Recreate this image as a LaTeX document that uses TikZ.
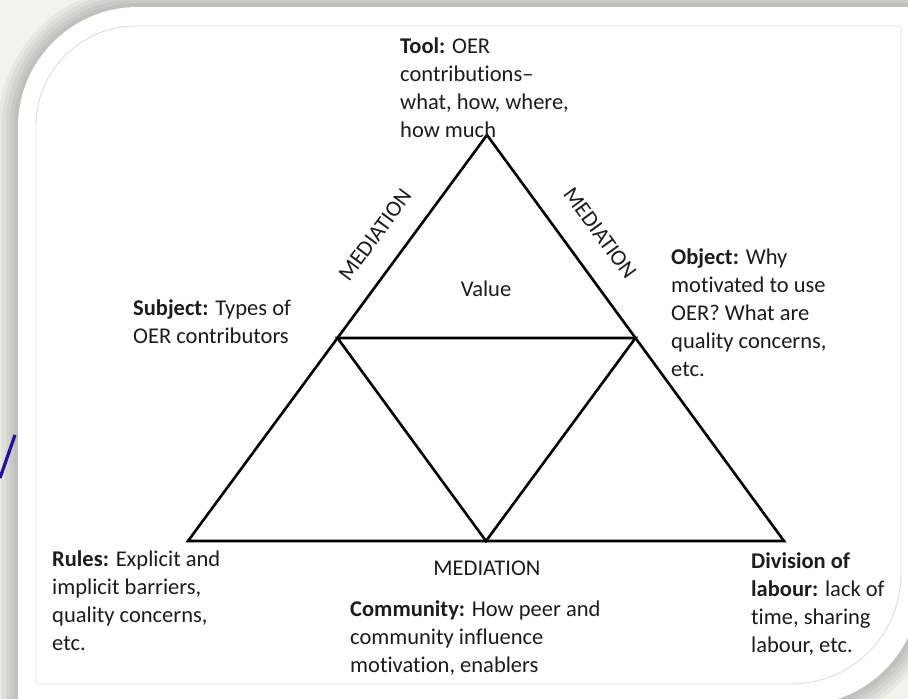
\documentclass[tikz,border=0pt]{standalone}
\usepackage{fontspec}
\setmainfont{Carlito}[Ligatures={TeX,NoCommon}]
\usetikzlibrary{calc}

\definecolor{paper}{RGB}{243,243,238}
\definecolor{rim}{RGB}{222,222,220}
\definecolor{ink}{RGB}{28,28,28}
\definecolor{slash}{RGB}{42,12,152}

% outline of the white card (y grows downwards)
\newcommand{\cardoutline}{(18,760) -- (18,127) arc[start angle=180, end angle=270, radius=120]
  -- (940,7) -- (920,585) arc[start angle=0, end angle=90, radius=120] -- (18,705) -- cycle}

\begin{document}
\begin{tikzpicture}[
    x=1pt, y=-1pt,
    every node/.style={inner sep=0pt, text=ink, font=\fontsize{22.5}{28}\selectfont},
    block/.style={align=left, anchor=base west},
    edge/.style={line width=2.6pt, line join=miter}
]
    \useasboundingbox (0,0) rectangle (908,699);
    \clip (0,0) rectangle (908,699);

    % Card with soft shadow
    \fill[paper] (0,0) rectangle (908,699);
    \foreach \w in {40,32,24,16,8}
        \draw[line width=\w pt, black, opacity=0.045] \cardoutline;
    \fill[white] \cardoutline;
    \draw[rim, line width=0.9pt] (36,684) -- (36,126) arc[start angle=180, end angle=270, radius=100]
        -- (901,26) -- (901,574) arc[start angle=0, end angle=90, radius=110] -- cycle;
    \draw[slash, line width=3.2pt] (15,435) -- (0,478);

    % Corners of the triangle
    \coordinate (T) at (487,135);
    \coordinate (L) at (188,541);
    \coordinate (R) at (784,541);
    \coordinate (ML) at ($(T)!0.5!(L)$);
    \coordinate (MR) at ($(T)!0.5!(R)$);
    \coordinate (MB) at ($(L)!0.5!(R)$);

    % Edges
    \draw[edge] (L) -- (T) -- (R) -- cycle;
    \draw[edge] (ML) -- (MR) -- (MB) -- cycle;

    % Texts (placed by the baseline of their last line)
    \node[block] (tool) at (400,137) {\textbf{Tool:} OER\\contributions–\\what, how, where,\\how much};
    \node[block] (subject) at (133,343) {\textbf{Subject:} Types of\\OER contributors};
    \node[block] (object) at (671,376) {\textbf{Object:} Why\\motivated to use\\OER? What are\\quality concerns,\\etc.};
    \node[block] (rules) at (52,650) {\textbf{Rules:} Explicit and\\implicit barriers,\\quality concerns,\\etc.};
    \node[block] (community) at (350,672) {\textbf{Community:} How peer and\\community influence\\motivation, enablers};
    \node[block] (division) at (751,652) {\textbf{Division of}\\\textbf{labour:} lack of\\time, sharing\\labour, etc.};
    \node[anchor=base] (value) at (486,296) {Value};

    % Mediation labels
    \node[anchor=base] (medB) at (487,575) {MEDIATION};
    \node[rotate=53.6] (medL) at (375,235) {MEDIATION};
    \node[rotate=-53.6] (medR) at (600,233) {MEDIATION};
\end{tikzpicture}
\end{document}
